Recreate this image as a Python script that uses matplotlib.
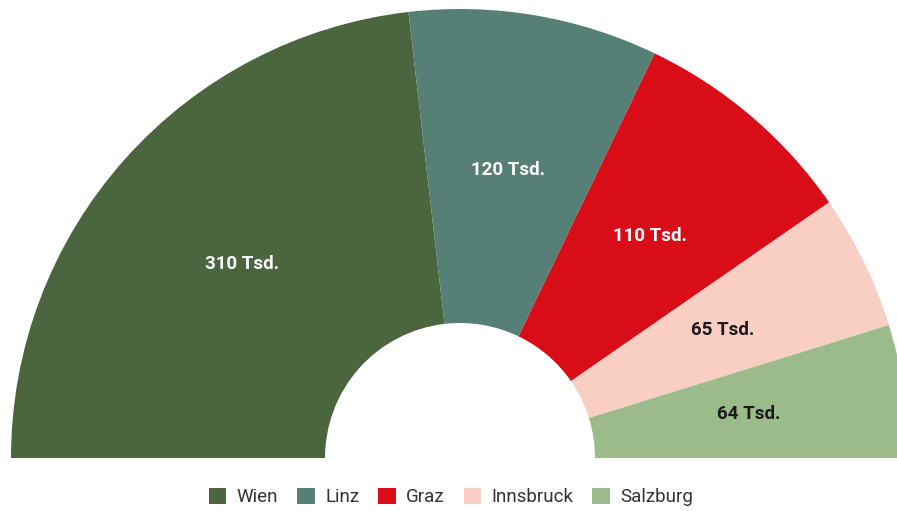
import matplotlib.pyplot as plt
import numpy as np

# data
cities = ["Wien", "Linz", "Graz", "Innsbruck", "Salzburg"]
values = [310, 120, 110, 65, 64]
labels = ["310 Tsd.", "120 Tsd.", "110 Tsd.", "65 Tsd.", "64 Tsd."]
colors = ["#4b653f", "#567f76", "#d90d18", "#f9cec3", "#9cbb8a"]
label_colors = ["white", "white", "white", "#1a1a1a", "#1a1a1a"]

plt.rcParams['font.family'] = ['Roboto', 'DejaVu Sans']

fig = plt.figure(figsize=(8.97, 5.11), dpi=100)
ax = fig.add_axes([0, 0, 1, 1])

# half donut: hidden second half has the same total
outer = 449
inner = 135
center = (460, 511 - 458)
wedges, _ = ax.pie(values + [sum(values)], colors=colors + ["none"],
                   startangle=180, counterclock=False, radius=outer, center=center,
                   wedgeprops=dict(width=outer - inner, edgecolor="none"),
                   labels=None, frame=True)

# value labels at middle of ring
r_mid = (outer + inner) / 2
for w, txt, c in zip(wedges[:5], labels, label_colors):
    ang = np.deg2rad((w.theta1 + w.theta2) / 2)
    ax.text(center[0] + r_mid * np.cos(ang), center[1] + r_mid * np.sin(ang), txt,
            ha="center", va="center", color=c, fontsize=13.5, fontweight="bold")

ax.set_xlim(0, 897)
ax.set_ylim(0, 511)
ax.set_aspect("equal")
ax.axis("off")

leg = ax.legend(wedges[:5], cities, ncol=5, frameon=False, loc="center",
                bbox_to_anchor=(451 / 897, 14 / 511), bbox_transform=fig.transFigure,
                fontsize=13.5, handlelength=0.95, handleheight=0.95, handletextpad=0.55,
                columnspacing=1.0, labelcolor="#333333")

fig.savefig("out.png", dpi=100)
